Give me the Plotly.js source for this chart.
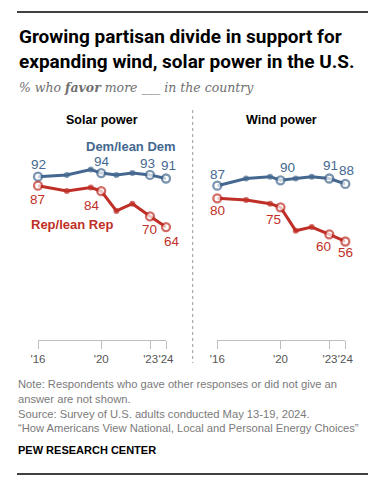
<!DOCTYPE html>
<html>
<head>
<meta charset="utf-8">
<script src="https://cdn.plot.ly/plotly-3.0.1.min.js"></script>
<style>html,body{margin:0;padding:0;background:#fff;}#chart{width:383px;height:488px;}</style>
</head>
<body>
<div id="chart"></div>
<script>
// ---- data ----
const years = [2016, 2017.8, 2019.3, 2019.95, 2020.9, 2021.9, 2023, 2024];
const solarDem = [92, 93, 96, 94, 93, 94, 93, 91];
const solarRep = [87, 84, 86, 84, 73, 77, 70, 64];
const windDem = [87, 91, 92, 90, 91, 92, 91, 88];
const windRep = [80, 79, 77, 75, 62, 64, 60, 56];
const labeledIdx = [0, 3, 6, 7];
const tickYears = [2016, 2019.95, 2023.04, 2024];
const tickLabels = ["'16", "'20", "'23", "'24"];
const panelTitles = ["Solar power", "Wind power"];
const seriesNames = ["Dem/lean Dem", "Rep/lean Rep"];

// ---- style ----
const W = 383, H = 488;
const DEM = '#44688f', REP = '#bf2f27';
const px = x => x / W, py = y => 1 - y / H;
const sans = '"Liberation Sans", Arial, sans-serif';

function series(xa, ya, xs, ys, color) {
  const open = xs.map((_, i) => labeledIdx.includes(i));
  return {
    type: 'scatter', mode: 'lines+markers', xaxis: xa, yaxis: ya,
    x: xs, y: ys, cliponaxis: false, hoverinfo: 'skip',
    line: {color: color, width: 3},
    marker: {
      size: open.map(o => o ? 8 : 6),
      color: open.map(o => o ? '#ffffff' : color),
      line: {color: color, width: open.map(o => o ? 2.3 : 0)}
    },
    showlegend: false
  };
}

const data = [
  series('x', 'y', years, solarDem, DEM),
  series('x', 'y', years, solarRep, REP),
  series('x2', 'y', years, windDem, DEM),
  series('x2', 'y', years, windRep, REP)
];

// label offsets (px) per labeled point
const offsets = {
  sd: [[0, 12], [1, 12], [-3, 11], [2, 13]],
  sr: [[-1, -14], [-9, -14], [-1, -13], [6, -14]],
  wd: [[0, 11], [7, 13], [1, 13], [1, 13]],
  wr: [[0, -12], [-7, -12], [-6, -12], [0, -11]]
};

const annotations = [];
function addLabels(xref, ys, color, offs) {
  labeledIdx.forEach((idx, k) => {
    annotations.push({
      xref: xref, yref: 'y', x: years[idx], y: ys[idx], text: String(ys[idx]),
      showarrow: false, xshift: offs[k][0], yshift: offs[k][1],
      font: {family: sans, size: 13.5, color: color}
    });
  });
}
addLabels('x', solarDem, DEM, offsets.sd);
addLabels('x', solarRep, REP, offsets.sr);
addLabels('x2', windDem, DEM, offsets.wd);
addLabels('x2', windRep, REP, offsets.wr);

function txt(text, x, y, opts) {
  annotations.push(Object.assign({
    xref: 'paper', yref: 'paper', x: px(x), y: py(y), text: text,
    showarrow: false, xanchor: 'left', yanchor: 'middle', align: 'left'
  }, opts));
}
const titleFont = {family: 'Roboto, sans-serif', size: 19, color: '#000', weight: 700};
txt('Growing partisan divide in support for', 17, 37, {font: titleFont});
txt('expanding wind, solar power in the U.S.', 17, 61, {font: titleFont});
txt('<i>% who <b>favor</b> more ___ in the country</i>', 17, 87, {font: {family: '"DejaVu Serif", Georgia, serif', size: 12.5, color: '#6f6f6f'}});

txt('<b>' + panelTitles[0] + '</b>', 102, 120, {xanchor: 'center', font: {family: sans, size: 12.5, color: '#000'}});
txt('<b>' + panelTitles[1] + '</b>', 281, 120, {xanchor: 'center', font: {family: sans, size: 12.5, color: '#000'}});
txt('<b>' + seriesNames[0] + '</b>', 131, 146, {xanchor: 'center', font: {family: sans, size: 13, color: DEM}});
txt('<b>' + seriesNames[1] + '</b>', 72, 224, {xanchor: 'center', font: {family: sans, size: 13, color: REP}});

const noteFont = {family: sans, size: 11.2, color: '#7a7a7a'};
txt('Note: Respondents who gave other responses or did not give an', 16, 383.5, {font: noteFont});
txt('answer are not shown.', 16, 398.5, {font: noteFont});
txt('Source: Survey of U.S. adults conducted May 13-19, 2024.', 16, 413.5, {font: noteFont});
txt('\u201cHow Americans View National, Local and Personal Energy Choices\u201d', 16, 428, {font: noteFont});
txt('PEW RESEARCH CENTER', 16, 449.5, {font: {family: sans, size: 11, color: '#000', weight: 600}});

const xaxisBase = {
  range: [2016, 2024], showline: true, linecolor: '#bdbdbd', linewidth: 1,
  ticks: 'outside', ticklen: 8, tickcolor: '#bdbdbd', tickwidth: 1,
  tickmode: 'array', tickvals: tickYears, ticktext: tickLabels, tickangle: 0,
  tickfont: {family: sans, size: 11.5, color: '#555'},
  showgrid: false, zeroline: false, fixedrange: true, anchor: 'y'
};

const layout = {
  width: W, height: H, autosize: false,
  margin: {l: 0, r: 0, t: 0, b: 0, pad: 0},
  paper_bgcolor: '#fff', plot_bgcolor: 'rgba(0,0,0,0)',
  showlegend: false,
  xaxis: Object.assign({}, xaxisBase, {domain: [38 / W, 166 / W]}),
  xaxis2: Object.assign({}, xaxisBase, {domain: [217.3 / W, 345.3 / W]}),
  yaxis: {range: [1.28, 134.6], domain: [py(340), py(100)], visible: false, fixedrange: true},
  annotations: annotations,
  shapes: [
    {type: 'line', xref: 'paper', yref: 'paper', x0: px(17), x1: px(368), y0: py(12), y1: py(12), line: {color: '#000', width: 1.5}},
    {type: 'line', xref: 'paper', yref: 'paper', x0: px(17), x1: px(368), y0: py(474), y1: py(474), line: {color: '#000', width: 1.5}},
    {type: 'line', xref: 'paper', yref: 'paper', x0: px(192.7), x1: px(192.7), y0: py(110), y1: py(363), line: {color: '#999', width: 1, dash: 'dot'}}
  ]
};

Plotly.newPlot('chart', data, layout, {staticPlot: true, displayModeBar: false});
</script>
</body>
</html>
